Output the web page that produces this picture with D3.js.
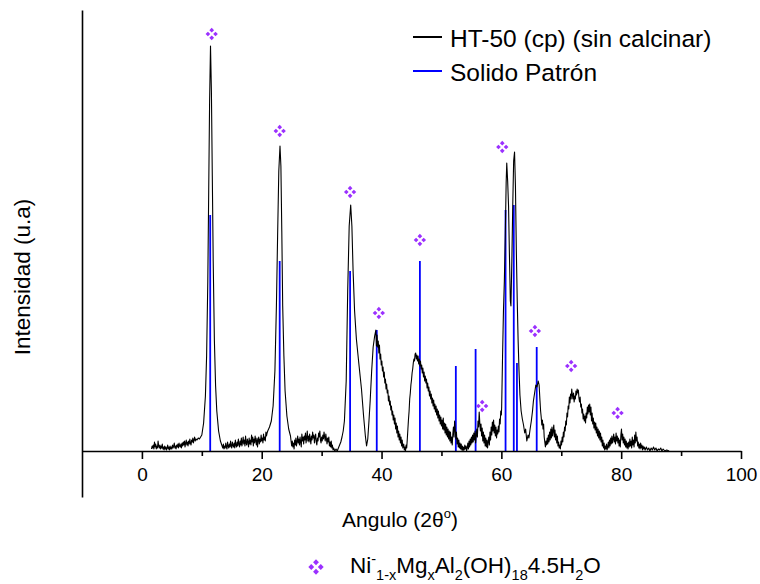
<!DOCTYPE html>
<html><head><meta charset="utf-8">
<script src="https://cdn.jsdelivr.net/npm/d3@7"></script>
<style>body{margin:0;background:#fff}svg{display:block}</style>
</head><body><svg id="c" width="760" height="584"></svg>
<script>
// HT-50 (cp) (sin calcinar) pattern: [2θ, intensity (a.u.)]
const traceHT50 = [
[1.6,2],[1.7,5],[1.8,3],[1.9,6],[2.0,2],[2.1,9],[2.2,4],[2.3,7],[2.4,2],[2.5,5],[2.6,3],[2.7,10],[2.8,5],[2.9,3],[3.0,6],[3.1,2],[3.2,5],[3.3,3],[3.4,7],[3.5,2],[3.6,4],[3.7,1],[3.8,5],[3.9,2],[4.0,4],[4.1,1],[4.2,3],[4.3,6],[4.4,2],[4.5,4],[4.6,1],[4.7,5],[4.8,2],[4.9,4],[5.0,2],[5.1,6],[5.2,3],[5.3,5],[5.4,8],[5.5,3],[5.6,5],[5.7,2],[5.8,6],[5.9,4],[6.0,7],[6.1,3],[6.2,8],[6.3,5],[6.4,4],[6.5,7],[6.6,3],[6.7,8],[6.8,5],[6.9,9],[7.0,6],[7.1,10],[7.2,4],[7.3,8],[7.4,11],[7.5,6],[7.6,9],[7.7,5],[7.8,10],[7.9,7],[8.0,12],[8.1,8],[8.2,6],[8.3,11],[8.4,9],[8.5,13],[8.6,8],[8.7,11],[8.8,14],[8.9,10],[9.0,12],[9.2,11],[9.4,13],[9.6,12],
[10.0,16],[10.3,28],[10.6,55],[10.8,95],[11.0,170],[11.15,260],[11.3,350],[11.45,405],[11.6,360],[11.75,275],[11.9,190],[12.1,110],[12.3,65],[12.5,40],[12.8,20],[13.1,10],
[13.5,3],[13.6,7],[13.7,2],[13.8,5],[13.9,3],[14.0,8],[14.1,4],[14.2,2],[14.3,9],[14.4,5],[14.5,3],[14.6,7],[14.7,4],[14.8,10],[14.9,5],[15.0,3],[15.1,9],[15.2,6],[15.3,4],[15.4,8],[15.5,3],[15.6,11],[15.7,6],[15.8,4],[15.9,9],[16.0,5],[16.1,12],[16.2,7],[16.3,4],[16.4,10],[16.5,6],[16.6,13],[16.7,5],[16.8,9],[16.9,14],[17.0,7],[17.1,11],[17.2,5],[17.3,15],[17.4,8],[17.5,6],[17.6,12],[17.7,9],[17.8,4],[17.9,13],[18.0,7],[18.1,11],[18.2,6],[18.3,16],[18.4,9],[18.5,14],[18.6,5],[18.7,12],[18.8,8],[18.9,15],[19.0,10],[19.1,6],[19.2,13],[19.3,4],[19.4,11],[19.5,14],[19.6,7],[19.7,12],[19.8,9],[19.9,16],[20.0,10],[20.1,13],[20.2,8],[20.3,17],[20.4,11],[20.5,14],[20.6,10],[20.7,19],[20.8,15],[20.9,18],
[21.0,20],[21.3,24],[21.6,30],[21.9,45],[22.2,80],[22.45,145],[22.65,215],[22.85,280],[23.05,305],[23.2,285],[23.35,220],[23.5,145],[23.7,95],[23.9,60],[24.2,35],[24.5,22],[24.8,15],
[25.0,5],[25.1,10],[25.2,4],[25.3,8],[25.4,2],[25.5,11],[25.6,6],[25.7,13],[25.8,5],[25.9,9],[26.0,15],[26.1,8],[26.2,12],[26.3,6],[26.4,14],[26.5,9],[26.6,4],[26.7,17],[26.8,10],[26.9,14],[27.0,7],[27.1,15],[27.2,11],[27.3,18],[27.4,8],[27.5,13],[27.6,20],[27.7,10],[27.8,15],[27.9,9],[28.0,17],[28.1,12],[28.2,7],[28.3,15],[28.4,11],[28.5,19],[28.6,13],[28.7,16],[28.8,8],[28.9,14],[29.0,17],[29.1,9],[29.2,6],[29.3,13],[29.4,10],[29.5,18],[29.6,14],[29.7,20],[29.8,11],[29.9,8],[30.0,14],[30.1,10],[30.2,16],[30.3,12],[30.4,19],[30.5,14],[30.6,10],[30.7,17],[30.8,12],[30.9,7],[31.0,13],[31.1,9],[31.2,14],[31.3,5],[31.4,9],[31.5,4],[31.6,10],[31.7,3],[31.8,6],[31.9,1],[32.0,3],[32.2,0],[32.4,2],[32.6,0],[32.8,3],[33.0,6],[33.2,9],[33.4,14],[33.6,20],
[33.8,30],[34.1,70],[34.35,160],[34.6,225],[34.85,246],[35.05,225],[35.25,180],[35.5,140],[35.8,112],[36.2,88],[36.65,62],[37.0,35],[37.3,15],[37.5,5],[37.7,12],
[37.9,30],[38.1,50],[38.35,80],[38.6,104],[38.85,115],[39.05,121],[39.15,105],[39.25,116],[39.35,104],[39.45,110],[39.55,98],[39.65,106],[39.75,92],[39.85,97],[39.95,86],[40.05,90],[40.15,80],[40.25,84],[40.35,74],[40.45,79],[40.55,68],[40.65,72],[40.75,62],[40.85,67],[40.95,58],[41.05,61],[41.15,50],[41.25,55],[41.35,46],[41.45,50],[41.55,41],[41.65,45],[41.75,36],[41.85,40],[41.95,31],[42.05,36],[42.15,27],[42.25,33],[42.35,22],[42.45,28],[42.55,18],[42.65,25],[42.75,14],[42.85,20],[42.95,11],[43.05,17],[43.15,8],[43.25,14],[43.35,5],[43.45,11],[43.55,3],[43.7,7],[43.8,1],[43.9,4],[44.0,0],[44.1,6],[44.2,3],[44.3,12],[44.4,22],
[44.5,32],[44.6,40],[44.7,52],[44.8,58],[44.9,66],[45.0,71],[45.1,78],[45.2,82],[45.3,88],[45.4,92],[45.5,90],[45.6,97],[45.7,98],[45.8,92],[45.9,96],[46.0,90],[46.1,95],[46.2,87],[46.3,92],[46.4,85],[46.5,90],[46.6,82],[46.7,86],[46.8,78],[46.9,83],[47.0,74],[47.1,79],[47.2,70],[47.3,75],[47.4,68],[47.5,72],[47.6,63],[47.7,68],[47.8,60],[47.9,64],[48.0,55],[48.1,60],[48.2,52],[48.3,57],[48.4,48],[48.5,53],[48.6,45],[48.7,51],[48.8,42],[48.9,47],[49.0,39],[49.1,45],[49.2,36],[49.3,42],[49.4,33],[49.5,40],[49.6,30],[49.7,36],[49.8,27],[49.9,34],[50.0,25],[50.1,31],[50.2,22],[50.3,33],[50.4,21],[50.5,28],[50.6,18],[50.7,27],[50.8,16],[50.9,24],[51.0,14],[51.1,22],[51.2,12],[51.3,20],[51.4,10],[51.5,19],[51.6,8],[51.7,14],[51.8,6],[51.9,17],[52.0,24],[52.1,14],[52.2,30],[52.3,22],[52.4,12],[52.5,19],[52.6,7],[52.7,13],[52.8,4],[52.9,11],[53.0,3],[53.1,8],[53.2,2],[53.3,7],[53.4,1],[53.5,5],[53.6,0],[53.7,4],[53.8,1],[53.9,6],[54.0,2],[54.1,5],[54.2,0],[54.3,3],[54.4,8],[54.5,2],[54.6,10],[54.7,4],[54.8,12],[54.9,6],[55.0,14],[55.1,8],[55.2,16],[55.3,9],[55.4,18],[55.5,11],[55.6,20],[55.7,8],[55.8,15],[55.9,22],[56.0,14],[56.1,30],[56.2,24],[56.3,39],[56.4,28],[56.5,20],[56.6,27],[56.7,15],[56.8,23],[56.9,10],[57.0,19],[57.1,8],[57.2,16],[57.3,5],[57.4,13],[57.5,4],[57.6,11],[57.7,3],[57.8,9],[57.9,14],[58.0,6],[58.1,19],[58.2,11],[58.3,24],[58.4,16],[58.5,29],[58.6,20],[58.7,31],[58.8,18],[58.9,26],[59.0,15],[59.1,24],[59.2,13],[59.3,21],[59.4,17],[59.5,25],[59.6,19],[59.7,32],[59.8,27],[59.9,40],[60.0,36],[60.05,44],
[60.2,95],[60.35,140],[60.5,170],[60.65,215],[60.8,268],[60.9,288],[61.05,270],[61.2,245],[61.35,195],[61.5,150],[61.6,145],[61.75,190],[61.9,245],[62.05,290],[62.2,299],[62.35,265],[62.5,200],[62.65,150],[62.8,110],[62.95,80],[63.1,56],[63.3,40],[63.5,32],[63.7,26],[63.9,18],[64.05,22],[64.25,10],[64.45,16],[64.6,13],[64.8,22],[65.0,30],[65.2,40],[65.35,50],[65.55,58],[65.75,66],[65.95,64],[66.15,70],[66.3,66],
[66.45,50],[66.55,40],[66.65,34],[66.75,26],[66.85,31],[66.95,22],[67.05,27],[67.15,14],[67.25,9],[67.35,4],[67.45,10],[67.55,6],[67.65,13],[67.75,7],[67.85,16],[67.95,9],[68.05,19],[68.15,11],[68.25,22],[68.35,13],[68.45,24],[68.55,15],[68.65,20],[68.75,26],[68.85,14],[68.95,21],[69.05,11],[69.15,17],[69.25,8],[69.35,15],[69.45,5],[69.55,9],[69.65,3],[69.75,6],[69.85,2],[69.95,10],[70.05,6],[70.15,14],[70.25,9],[70.35,19],[70.45,14],[70.55,24],[70.65,20],[70.75,30],[70.85,26],[70.95,38],[71.05,34],[71.15,45],[71.25,42],[71.35,54],[71.45,48],[71.55,57],[71.65,52],[71.75,62],[71.85,56],[71.95,52],[72.05,58],[72.15,49],[72.25,55],[72.35,52],[72.45,60],[72.55,56],[72.65,62],[72.75,58],[72.85,61],[72.95,53],[73.05,49],[73.15,54],[73.25,44],[73.35,47],[73.45,38],[73.55,42],[73.65,32],[73.75,37],[73.85,30],[73.95,35],[74.05,28],[74.15,38],[74.25,33],[74.35,44],[74.45,37],[74.55,46],[74.65,39],[74.75,47],[74.85,36],[74.95,44],[75.05,30],[75.15,38],[75.25,27],[75.35,33],[75.45,23],[75.55,29],[75.65,21],[75.75,28],[75.85,18],[75.95,24],[76.05,15],[76.15,22],[76.25,13],[76.35,20],[76.45,11],[76.55,18],[76.65,9],[76.75,14],[76.85,5],[76.95,11],[77.05,3],[77.15,8],[77.25,1],[77.35,5],[77.45,2],[77.55,7],[77.65,1],[77.75,4],[77.85,9],[77.95,3],[78.05,11],[78.15,5],[78.25,13],[78.35,7],[78.45,15],[78.55,8],[78.65,12],[78.75,17],[78.85,9],[78.95,14],[79.05,7],[79.15,18],[79.25,10],[79.35,15],[79.45,8],[79.55,13],[79.65,5],[79.75,11],[79.85,4],[79.95,16],[80.05,22],[80.15,11],[80.25,17],[80.35,8],[80.45,14],[80.55,6],[80.65,12],[80.75,4],[80.85,10],[80.95,3],[81.05,8],[81.15,2],[81.25,9],[81.35,4],[81.45,12],[81.55,5],[81.65,10],[81.75,3],[81.85,14],[81.95,6],[82.05,11],[82.15,4],[82.25,16],[82.35,8],[82.45,19],[82.55,10],[82.65,14],[82.75,5],[82.85,9],[82.95,3],[83.05,7],[83.15,2],[83.25,8],[83.35,3],[83.45,6],[83.55,1],[83.65,5],[83.75,2],[83.85,4],[84.0,1],[84.2,4],[84.4,1],[84.6,3],[84.8,0],[85.0,3],[85.2,1],[85.4,4],[85.6,1],[85.8,3],[86.0,0],[86.2,2],[86.4,1],[86.6,3],[86.8,0],[87.0,2],[87.3,0],[87.6,1],[88.0,0]
];

// Solido Patrón reference lines
const stickAngle     = [11.4, 23.0, 34.75, 39.2, 46.4, 52.4, 55.7, 60.7, 62.07, 62.6, 65.9];
const stickIntensity = [236, 190, 180, 121, 190, 85, 102, 241, 246, 88, 104];

// phase markers (Ni1-xMgxAl2(OH)18 4.5H2O)
const markAngle     = [11.65, 23.0, 34.75, 39.55, 46.4, 56.8, 60.15, 65.6, 71.65, 79.4];
const markIntensity = [417, 320, 259, 138, 211, 45, 304, 120, 85, 38];

const xTicks = [0, 20, 40, 60, 80, 100];
const xMinorTicks = [10, 30, 50, 70, 90];

const legendLabels = ["HT-50 (cp) (sin calcinar)", "Solido Patrón"];
const legendColors = ["#000000", "#0000ff"];
const markerColor = "#9b30ff";

const FONT = "'Liberation Sans', Arial, sans-serif";
const svg = d3.select('#c');
const x = d3.scaleLinear().domain([-10, 100]).range([82, 741]);
const y = d3.scaleLinear().domain([-46, 441]).range([497, 10]);

// sticks
svg.append('g').selectAll('line').data(stickAngle).join('line')
  .attr('x1', d => x(d)).attr('x2', d => x(d))
  .attr('y1', y(0)).attr('y2', (d, i) => y(stickIntensity[i]))
  .attr('stroke', legendColors[1]).attr('stroke-width', 1.8);

// trace
svg.append('path').datum(traceHT50)
  .attr('d', d3.line().x(d => x(d[0])).y(d => y(d[1])))
  .attr('fill', 'none').attr('stroke', legendColors[0]).attr('stroke-width', 1.1)
  .attr('stroke-linejoin', 'round');

// axes
const gx = svg.append('g').attr('transform', `translate(0,${y(0)})`)
  .call(d3.axisBottom(x).tickValues(xTicks).tickSize(8).tickSizeOuter(0).tickPadding(9));
const gxm = svg.append('g').attr('transform', `translate(0,${y(0)})`)
  .call(d3.axisBottom(x).tickValues(xMinorTicks).tickSize(5).tickSizeOuter(0).tickFormat(''));
gxm.select('.domain').remove();
const gy = svg.append('g').attr('transform', `translate(${x(-10)},0)`)
  .call(d3.axisLeft(y).tickValues([]).tickSizeOuter(0));
[gx, gxm, gy].forEach(g => {
  g.selectAll('.domain').attr('stroke', '#000').attr('stroke-width', 1.6);
  g.selectAll('.tick line').attr('stroke', '#000').attr('stroke-width', 1.6);
});
gx.selectAll('.tick text').attr('font-family', FONT).attr('font-size', 19).attr('fill', '#000');

// markers
const sq = d3.symbol(d3.symbolSquare, 11)();
const offs = [[0, -3.8], [3.8, 0], [0, 3.8], [-3.8, 0]];
function drawMarker(g, cx, cy, s) {
  offs.forEach(o => g.append('path').attr('d', sq)
    .attr('transform', `translate(${cx + o[0] * s},${cy + o[1] * s}) rotate(45) scale(${s})`)
    .attr('fill', markerColor));
}
const gm = svg.append('g');
markAngle.forEach((a, i) => drawMarker(gm, x(a), y(markIntensity[i]), 1));

// axis titles
svg.append('text').attr('x', 400).attr('y', 527).attr('text-anchor', 'middle')
  .attr('font-family', FONT).attr('font-size', 21)
  .call(t => { t.append('tspan').text('Angulo (2θ');
               t.append('tspan').attr('font-size', 13).attr('dy', -9).text('o');
               t.append('tspan').attr('dy', 9).text(')'); });
svg.append('text').attr('transform', 'translate(30,277) rotate(-90)').attr('text-anchor', 'middle')
  .attr('font-family', FONT).attr('font-size', 22.5).text('Intensidad (u.a)');

// legend
legendLabels.forEach((l, i) => {
  const yy = 37 + i * 34;
  svg.append('line').attr('x1', 413).attr('x2', 442).attr('y1', yy).attr('y2', yy)
    .attr('stroke', legendColors[i]).attr('stroke-width', 2);
  svg.append('text').attr('x', 450).attr('y', yy + 9.5).attr('font-family', FONT)
    .attr('font-size', 24.5).attr('fill', '#000').text(l);
});

// bottom formula legend
drawMarker(svg.append('g'), 316, 567, 1.25);
const ft = svg.append('text').attr('x', 350).attr('y', 573).attr('font-family', FONT)
  .attr('font-size', 22.5).attr('fill', '#000');
const parts = [["Ni",0,22.5],["-",-9,14.5],["1-x",16,14.5],["Mg",-7,22.5],["x",7,14.5],["Al",-7,22.5],["2",7,14.5],
               ["(OH)",-7,22.5],["18",7,14.5],["4.5H",-7,22.5],["2",7,14.5],["O",-7,22.5]];
parts.forEach(p => ft.append('tspan').attr('dy', p[1]).attr('font-size', p[2]).text(p[0]));
</script>
</body></html>
